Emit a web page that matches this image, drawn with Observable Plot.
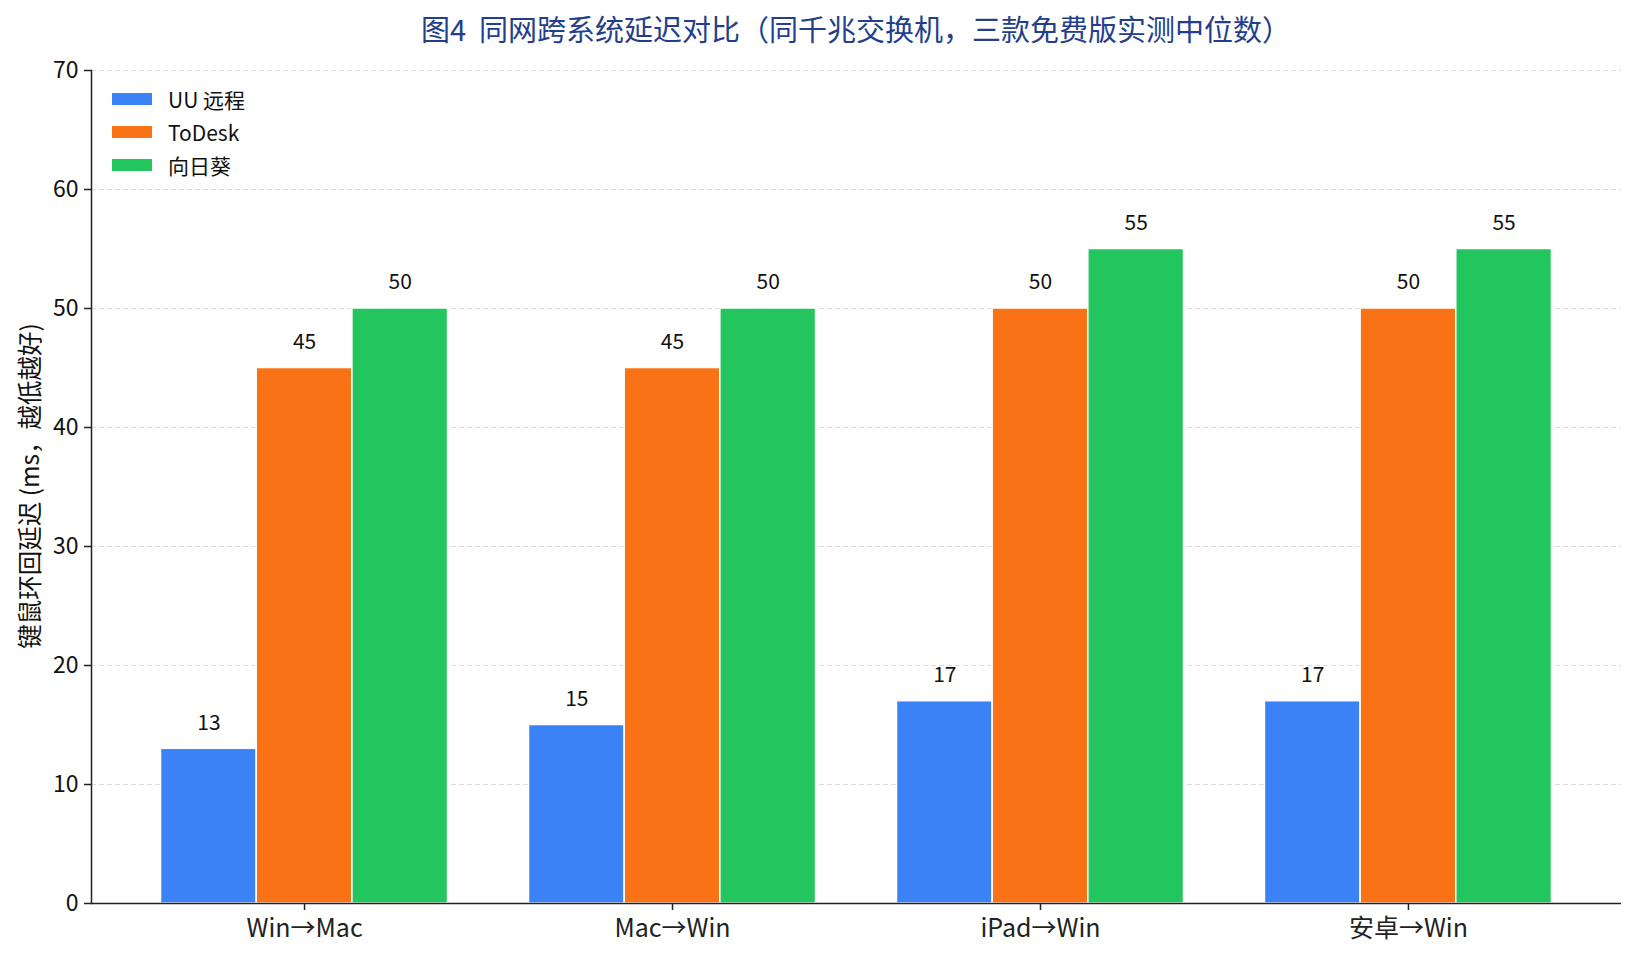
<!DOCTYPE html>
<html>
<head>
<meta charset="utf-8">
<script src="https://cdn.jsdelivr.net/npm/d3@7"></script>
<script src="https://cdn.jsdelivr.net/npm/@observablehq/plot@0.6"></script>
<style>
  html, body { margin: 0; padding: 0; background: #fff; }
  #wrap { position: relative; width: 1635px; height: 960px; font-family: "Noto Sans CJK SC", "Noto Sans", sans-serif; }
  #title { box-sizing: border-box; width: 1635px; height: 50px; line-height: 56px; padding-left: 91px; padding-right: 14px; text-align: center; font-size: 29px; color: #233e8b; white-space: pre; }
  #legend { position: absolute; left: 112px; top: 82px; }
  .row { display: flex; align-items: center; height: 33px; font-size: 21px; color: #111; }
  .sw { width: 40px; height: 12px; margin-right: 16px; }
  #ylabel { position: absolute; left: 28px; top: 486px; transform: translate(-50%, -50%) rotate(-90deg); white-space: nowrap; font-size: 24.5px; color: #111; }
  #chart svg { overflow: visible; }
</style>
</head>
<body>
<div id="wrap">
  <div id="title">图4  同网跨系统延迟对比（同千兆交换机，三款免费版实测中位数）</div>
  <div id="chart"></div>
  <div id="legend"></div>
  <div id="ylabel"></div>
</div>
<script>
const categories = ["Win→Mac", "Mac→Win", "iPad→Win", "安卓→Win"];
const series = ["UU 远程", "ToDesk", "向日葵"];
const uuValues = [13, 15, 17, 17];
const todeskValues = [45, 45, 50, 50];
const sunloginValues = [50, 50, 55, 55];
const colors = ["#3b82f6", "#f97316", "#22c55e"];
const yTicks = [0, 10, 20, 30, 40, 50, 60, 70];
const yLabel = "键鼠环回延迟 (ms，越低越好)";

const barWidth = 0.26;
const seriesValues = [uuValues, todeskValues, sunloginValues];
const data = categories.flatMap((c, i) =>
  series.map((s, j) => ({
    index: i, category: c, series: s, value: seriesValues[j][i],
    center: i + (j - (series.length - 1) / 2) * barWidth
  }))
);
const lo = -((series.length) / 2) * barWidth;
const hi = categories.length - 1 + (series.length / 2) * barWidth;
const pad = (hi - lo) * 0.05;
const xDomain = [lo - pad, hi + pad];

const chart = Plot.plot({
  width: 1635,
  height: 910,
  marginTop: 20,
  marginBottom: 57,
  marginLeft: 91,
  marginRight: 14,
  style: {fontFamily: '"Noto Sans CJK SC", "Noto Sans", sans-serif', background: "white", color: "#222"},
  x: {domain: xDomain, axis: null},
  y: {domain: [0, 70], axis: null},
  color: {domain: series, range: colors},
  marks: [
    Plot.ruleY(yTicks.slice(1), {stroke: "#dcdcdc", strokeWidth: 1, strokeDasharray: "5,3"}),
    Plot.rectY(data, {x1: d => d.center - barWidth / 2, x2: d => d.center + barWidth / 2, y: "value", fill: "series", stroke: "white", strokeWidth: 1.5}),
    Plot.text(data, {x: "center", y: "value", text: d => String(d.value), dy: -26, fontSize: 21, fill: "#111"}),
    Plot.axisY({ticks: yTicks, tickSize: 7, tickFormat: () => "", label: null, strokeWidth: 1.5}),
    Plot.text(yTicks, {y: d => d, text: d => String(d), frameAnchor: "left", dx: -13, textAnchor: "end", fontSize: 23, fill: "#111"}),
    Plot.frame({anchor: "left", stroke: "#222", strokeWidth: 1.5}),
    Plot.ruleY([0], {stroke: "#222", strokeWidth: 1.5}),
    Plot.axisX({ticks: d3.range(categories.length), tickFormat: i => categories[i], tickSize: 7, tickPadding: 9, fontSize: 25, label: null, strokeWidth: 1.5})
  ]
});
document.getElementById("chart").appendChild(chart);
document.getElementById("ylabel").textContent = yLabel;

const legend = document.getElementById("legend");
series.forEach((s, i) => {
  const row = document.createElement("div");
  row.className = "row";
  const sw = document.createElement("div");
  sw.className = "sw";
  sw.style.background = colors[i];
  const t = document.createElement("span");
  t.textContent = s;
  row.appendChild(sw);
  row.appendChild(t);
  legend.appendChild(row);
});
</script>
</body>
</html>
